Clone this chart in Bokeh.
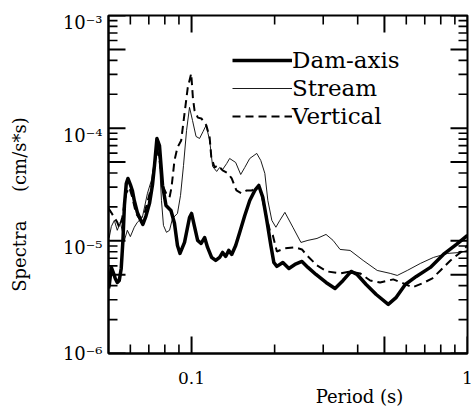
import math

from bokeh.plotting import figure
from bokeh.models import FixedTicker, Legend, LegendItem
from bokeh.embed import file_html
from bokeh.resources import INLINE

# Fourier spectra of the three recorded components, period (s) vs amplitude (cm/s*s)
dam_period = [0.050, 0.0503, 0.0512, 0.0520, 0.0529, 0.0538, 0.0547, 0.0556, 0.0564, 0.0571,
              0.0580, 0.0588, 0.0600, 0.0610, 0.0620, 0.0636, 0.0652, 0.0666, 0.0683, 0.0704,
              0.0722, 0.0734, 0.0749, 0.0765, 0.0785, 0.0808, 0.0842, 0.0867, 0.0889, 0.0908,
              0.0943, 0.0983, 0.100, 0.1025, 0.1052, 0.1083, 0.1115, 0.1143, 0.1182, 0.1223,
              0.1264, 0.1296, 0.1329, 0.1363, 0.1398, 0.1445, 0.1495, 0.1559, 0.1625, 0.1695,
              0.1752, 0.1812, 0.1874, 0.1938, 0.1987, 0.2038, 0.2142, 0.2253, 0.2368, 0.2512,
              0.2641, 0.2824, 0.3071, 0.3311, 0.3541, 0.3786, 0.3981, 0.4293, 0.4669, 0.5162,
              0.5520, 0.5950, 0.6524, 0.7335, 0.8177, 0.9120, 1.0]
dam_value = [3.78e-6, 4.02e-6, 5.81e-6, 5.24e-6, 4.64e-6, 4.27e-6, 4.45e-6, 5.69e-6, 1.01e-5, 2.06e-5,
             3.23e-5, 3.58e-5, 3.16e-5, 2.80e-5, 2.28e-5, 1.79e-5, 1.55e-5, 1.40e-5, 1.65e-5, 2.15e-5,
             3.16e-5, 4.67e-5, 8.10e-5, 7.02e-5, 3.10e-5, 2.06e-5, 1.86e-5, 1.43e-5, 9.10e-6, 7.73e-6,
             9.68e-6, 1.61e-5, 1.75e-5, 1.34e-5, 1.01e-5, 9.48e-6, 1.07e-5, 8.74e-6, 7.12e-6, 6.70e-6,
             7.12e-6, 7.89e-6, 7.27e-6, 8.22e-6, 7.57e-6, 9.10e-6, 1.19e-5, 1.68e-5, 2.28e-5, 2.80e-5,
             3.10e-5, 2.43e-5, 1.52e-5, 9.10e-6, 6.43e-6, 5.93e-6, 6.43e-6, 5.69e-6, 6.17e-6, 6.56e-6,
             5.81e-6, 5.03e-6, 4.27e-6, 3.78e-6, 4.45e-6, 5.35e-6, 5.03e-6, 4.10e-6, 3.34e-6, 2.73e-6,
             3.15e-6, 4.10e-6, 4.83e-6, 5.81e-6, 7.57e-6, 9.29e-6, 1.12e-5]

stream_period = [0.050, 0.0503, 0.0512, 0.0525, 0.0538, 0.0552, 0.0571, 0.0585, 0.0600, 0.0620,
                 0.0636, 0.0663, 0.0692, 0.0715, 0.0734, 0.0749, 0.0765, 0.0778, 0.0791, 0.0811,
                 0.0832, 0.0853, 0.0889, 0.0912, 0.0935, 0.0959, 0.0983, 0.1008, 0.1038, 0.1069,
                 0.1101, 0.1129, 0.1163, 0.1192, 0.1233, 0.1264, 0.1296, 0.1341, 0.1374, 0.1445,
                 0.1507, 0.1559, 0.1625, 0.1723, 0.1782, 0.1843, 0.1890, 0.1954, 0.2021, 0.2089,
                 0.2179, 0.2329, 0.2491, 0.2641, 0.2848, 0.3071, 0.3256, 0.3453, 0.3754, 0.4186,
                 0.4708, 0.5248, 0.5565, 0.6051, 0.6747, 0.7523, 0.8457, 0.9430, 1.0]
stream_value = [1.19e-5, 1.07e-5, 1.34e-5, 1.52e-5, 1.24e-5, 1.46e-5, 1.01e-5, 1.24e-5, 1.09e-5, 1.32e-5,
                1.46e-5, 1.61e-5, 2.64e-5, 3.44e-5, 5.16e-5, 7.02e-5, 5.16e-5, 2.28e-5, 1.37e-5, 1.19e-5,
                1.24e-5, 1.58e-5, 1.75e-5, 2.53e-5, 4.67e-5, 9.54e-5, 1.53e-4, 1.17e-4, 8.44e-5, 8.10e-5,
                9.35e-5, 1.06e-4, 7.78e-5, 4.57e-5, 4.13e-5, 4.48e-5, 4.30e-5, 4.86e-5, 5.38e-5, 4.96e-5,
                3.88e-5, 4.48e-5, 5.38e-5, 5.97e-5, 5.16e-5, 3.97e-5, 2.28e-5, 1.52e-5, 1.32e-5, 1.52e-5,
                1.79e-5, 1.32e-5, 9.68e-6, 1.01e-5, 1.05e-5, 1.14e-5, 1.01e-5, 8.39e-6, 8.22e-6, 6.70e-6,
                5.46e-6, 5.14e-6, 4.93e-6, 5.46e-6, 6.30e-6, 7.12e-6, 7.73e-6, 7.89e-6, 8.22e-6]

vert_period = [0.050, 0.0511, 0.0525, 0.0538, 0.0547, 0.0561, 0.0579, 0.0595, 0.0610, 0.0629,
               0.0647, 0.0675, 0.0694, 0.0714, 0.0734, 0.0749, 0.0765, 0.0785, 0.0809, 0.0832,
               0.0846, 0.0867, 0.0889, 0.0917, 0.0943, 0.0969, 0.0997, 0.1011, 0.1025, 0.1054,
               0.1085, 0.1131, 0.1163, 0.1179, 0.1212, 0.1246, 0.1296, 0.1355, 0.1398, 0.1454,
               0.1516, 0.1585, 0.1653, 0.1723, 0.1767, 0.1812, 0.1874, 0.1921, 0.1970, 0.2038,
               0.2179, 0.2369, 0.2512, 0.2619, 0.2848, 0.3097, 0.3453, 0.3754, 0.4082, 0.4438,
               0.4826, 0.5383, 0.5854, 0.6310, 0.6861, 0.7459, 0.7977, 0.8674, 0.9430, 1.0]
vert_value = [1.94e-5, 1.79e-5, 1.61e-5, 1.46e-5, 1.32e-5, 1.61e-5, 2.64e-5, 2.98e-5, 2.43e-5, 1.75e-5,
              1.58e-5, 1.75e-5, 2.28e-5, 2.98e-5, 4.67e-5, 6.60e-5, 5.16e-5, 3.10e-5, 2.64e-5, 2.43e-5,
              2.98e-5, 5.16e-5, 6.74e-5, 7.78e-5, 1.35e-4, 2.30e-4, 3.06e-4, 1.87e-4, 1.44e-4, 1.24e-4,
              1.22e-4, 1.06e-4, 8.26e-5, 5.50e-5, 4.48e-5, 4.67e-5, 4.22e-5, 3.97e-5, 3.58e-5, 2.80e-5,
              2.64e-5, 2.80e-5, 2.80e-5, 3.04e-5, 2.92e-5, 2.28e-5, 1.58e-5, 1.24e-5, 1.12e-5, 8.05e-6,
              8.57e-6, 8.74e-6, 8.39e-6, 7.42e-6, 6.05e-6, 5.35e-6, 5.14e-6, 5.35e-6, 5.14e-6, 4.45e-6,
              4.27e-6, 4.55e-6, 4.19e-6, 3.86e-6, 4.19e-6, 4.64e-6, 5.46e-6, 6.70e-6, 7.89e-6, 9.10e-6]

series_names = ["Dam-axis", "Stream", "Vertical"]

# Axis extents, ticks and their labels
X_MIN, X_MAX = 0.05, 1.0
Y_MIN, Y_MAX = 1e-6, 1e-3

x_ticks = [0.1, 1.0]
x_tick_labels = ["0.1", "1"]
x_mid_ticks = [0.5]
x_minor_ticks = [0.06, 0.07, 0.08, 0.09, 0.2, 0.3, 0.4, 0.6, 0.7, 0.8, 0.9]

y_ticks = [1e-6, 1e-5, 1e-4, 1e-3]
y_tick_labels = ["10\u207b\u2076", "10\u207b\u2075", "10\u207b\u2074", "10\u207b\u00b3"]
y_mid_ticks = [5e-6, 5e-5, 5e-4]
y_minor_ticks = [m * 10.0 ** e for e in (-6, -5, -4) for m in (2, 3, 4, 6, 7, 8, 9)]

x_label = "Period (s)"
y_label_name = "Spectra"
y_label_unit = "(cm/s*s)"

SERIF = "DejaVu Serif"
NBSP = "\u00a0"
MAJOR_LEN, MINOR_LEN = 17, 9

WIDTH, HEIGHT = 473, 411
BORDER_L, BORDER_R, BORDER_T, BORDER_B = 108, 6, 15, 58
FRAME_H = HEIGHT - BORDER_T - BORDER_B

p = figure(width=WIDTH, height=HEIGHT, x_axis_type="log", y_axis_type="log",
           x_range=(X_MIN, X_MAX), y_range=(Y_MIN, Y_MAX),
           output_backend="svg", toolbar_location=None,
           min_border_left=BORDER_L, min_border_right=BORDER_R,
           min_border_top=BORDER_T, min_border_bottom=BORDER_B)
p.xgrid.visible = False
p.ygrid.visible = False
p.outline_line_color = "black"
p.outline_line_width = 2
p.background_fill_color = "white"
p.border_fill_color = "white"

for ax in (p.xaxis[0], p.yaxis[0]):
    ax.axis_line_width = 2
    ax.axis_line_color = "black"
    ax.major_tick_in = 0
    ax.major_tick_out = 0
    ax.minor_tick_in = 0
    ax.minor_tick_out = 0
    ax.major_label_text_font = SERIF
    ax.major_label_text_color = "black"
    ax.axis_label_text_font = SERIF
    ax.axis_label_text_font_style = "normal"
    ax.axis_label_text_color = "black"
    ax.axis_label_text_font_size = "18px"

xa = p.xaxis[0]
xa.ticker = FixedTicker(ticks=x_ticks, minor_ticks=[])
xa.major_label_text_font_size = "17px"
xa.major_label_standoff = 18
xa.major_label_overrides = {t: s for t, s in zip(x_ticks, x_tick_labels)}
xa.axis_label = NBSP * 25 + x_label
xa.axis_label_standoff = -1

# The power-of-ten labels sit a few pixels below their tick marks, so they are
# anchored slightly lower than the decade they name (never below the axis end).
LABEL_DROP_PX = 7
drop = 10.0 ** (-LABEL_DROP_PX * math.log10(Y_MAX / Y_MIN) / FRAME_H)
y_label_anchor = [max(t * drop, Y_MIN) for t in y_ticks]

ya = p.yaxis[0]
ya.ticker = FixedTicker(ticks=y_label_anchor, minor_ticks=[])
ya.major_label_text_font_size = "18px"
ya.major_label_standoff = 6
ya.major_label_overrides = {a: s for a, s in zip(y_label_anchor, y_tick_labels)}
ya.axis_label = y_label_name + NBSP * 5 + y_label_unit + NBSP * 7
ya.axis_label_standoff = 30

# Inward tick marks on all four sides of the frame
tick_style = dict(line_color="black", length_units="screen")
x_long = x_ticks + x_mid_ticks
y_long = y_ticks + y_mid_ticks
p.ray(x=x_long, y=[Y_MIN] * len(x_long), length=MAJOR_LEN, angle=math.pi / 2, line_width=2, **tick_style)
p.ray(x=x_long, y=[Y_MAX] * len(x_long), length=MAJOR_LEN, angle=-math.pi / 2, line_width=2, **tick_style)
p.ray(x=x_minor_ticks, y=[Y_MIN] * len(x_minor_ticks), length=MINOR_LEN, angle=math.pi / 2, line_width=1.6, **tick_style)
p.ray(x=x_minor_ticks, y=[Y_MAX] * len(x_minor_ticks), length=MINOR_LEN, angle=-math.pi / 2, line_width=1.6, **tick_style)
p.ray(x=[X_MIN] * len(y_long), y=y_long, length=MAJOR_LEN, angle=0, line_width=2, **tick_style)
p.ray(x=[X_MAX] * len(y_long), y=y_long, length=MAJOR_LEN, angle=math.pi, line_width=2, **tick_style)
p.ray(x=[X_MIN] * len(y_minor_ticks), y=y_minor_ticks, length=MINOR_LEN, angle=0, line_width=1.6, **tick_style)
p.ray(x=[X_MAX] * len(y_minor_ticks), y=y_minor_ticks, length=MINOR_LEN, angle=math.pi, line_width=1.6, **tick_style)

r_stream = p.line(stream_period, stream_value, line_color="black", line_width=0.9)
r_vert = p.line(vert_period, vert_value, line_color="black", line_width=2, line_dash="8 5")
r_dam = p.line(dam_period, dam_value, line_color="black", line_width=3.5, line_join="round")

legend = Legend(
    items=[LegendItem(label=series_names[0], renderers=[r_dam]),
           LegendItem(label=series_names[1], renderers=[r_stream]),
           LegendItem(label=series_names[2], renderers=[r_vert])],
    location=(124, 223), orientation="vertical",
    glyph_width=60, glyph_height=28, label_height=28, label_standoff=0,
    spacing=0, padding=0, margin=0,
    border_line_color=None, background_fill_alpha=0,
    label_text_font=SERIF, label_text_font_size="23px", label_text_color="black",
)
p.add_layout(legend)

open("out.html", "w").write(file_html(p, INLINE))
